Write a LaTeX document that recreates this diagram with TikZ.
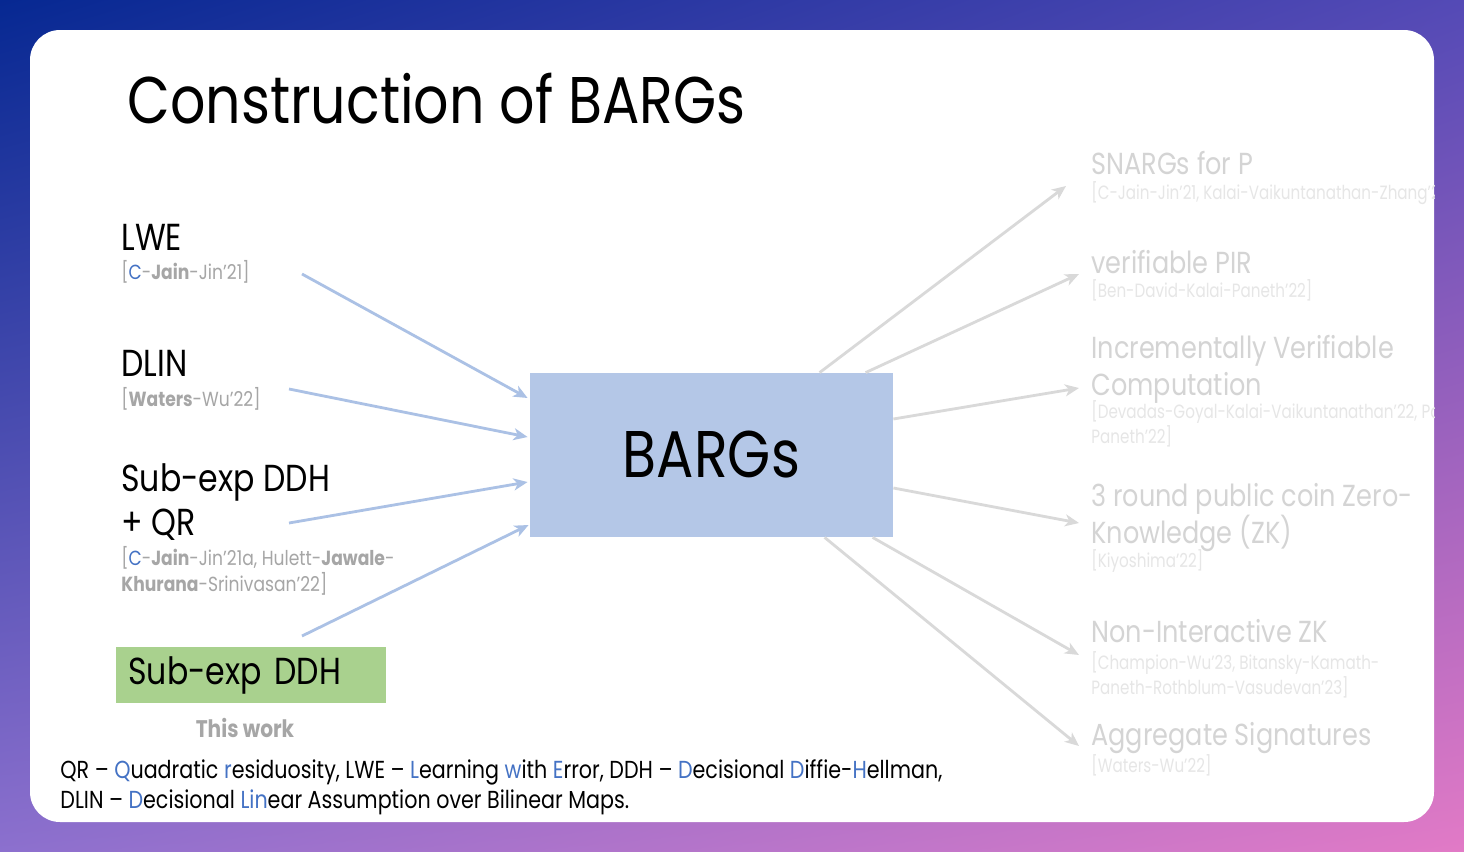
\documentclass[tikz,border=0pt]{standalone}
\usepackage{fontspec}
\setmainfont{Poppins}[FakeStretch=0.84]
\newfontfamily\narrowref{Poppins}[FakeStretch=0.79]
\usetikzlibrary{positioning,calc,arrows.meta,shadings}
\definecolor{bargblue}{HTML}{B4C7E7}
\definecolor{inblue}{HTML}{ABC1E5}
\definecolor{outgray}{HTML}{D9D9D9}
\definecolor{refgray}{HTML}{A6A6A6}
\definecolor{fadegray}{HTML}{D4D4D4}
\definecolor{fadelight}{HTML}{E6E6E6}
\definecolor{workgreen}{HTML}{A9D18E}
\definecolor{accblue}{HTML}{4472C4}
\definecolor{bgtl}{HTML}{062892}
\definecolor{bgtr}{HTML}{544AB6}
\definecolor{bgbl}{HTML}{8C70CE}
\definecolor{bgbr}{HTML}{E27AC6}
\newcommand{\cb}[1]{\textcolor{accblue}{#1}}
\tikzset{
  hyp/.style     = {anchor=base west, inner sep=0pt, align=left,
                    font=\fontsize{18.8}{22}\selectfont},
  hypref/.style  = {anchor=base west, inner sep=0pt, align=left, text=refgray,
                    font=\fontsize{10.2}{13}\selectfont},
  app/.style     = {anchor=base west, inner sep=0pt, align=left, text=fadegray,
                    font=\fontsize{15.2}{18.5}\selectfont},
  appref/.style  = {anchor=base west, inner sep=0pt, align=left, text=fadelight,
                    font=\narrowref\fontsize{9.6}{12.5}\selectfont},
  inarr/.style   = {draw=inblue, line width=1.4pt,
                    -{Stealth[length=7pt,width=6pt,inset=2pt]}},
  outarr/.style  = {draw=outgray, line width=1.4pt,
                    -{Stealth[length=7pt,width=6pt,inset=2pt]}},
}

\begin{document}
\begin{tikzpicture}[x=0.5pt, y=-0.5pt]
  % backdrop and slide card
  \shade[upper left=bgtl, upper right=bgtr, lower left=bgbl, lower right=bgbr]
    (0,0) rectangle (1464,852);
  \fill[white, rounded corners=15pt] (30,30) rectangle (1434,822);
  \begin{scope}
  \clip[rounded corners=15pt] (30,30) rectangle (1434,822);
  \node[anchor=base west, inner sep=0pt, font=\fontsize{33}{40}\selectfont]
    (title) at (127,123) {Construction of BARGs};
  % centre box
  \node[fill=bargblue, minimum width=181.5pt, minimum height=82pt, inner sep=0pt,
        font=\fontsize{33}{38}\selectfont] (barg) at (711.5,455) {BARGs};
  % LHS: assumptions (multi-line nodes sit on their last baseline)
  \node[hyp] (lwe) at (121,250) {LWE};
  \node[hypref] (lweref) at (121,279) {[\cb{C}-\textbf{Jain}-Jin’21]};
  \node[hyp] (dlin) at (121,376) {DLIN};
  \node[hypref] (dlinref) at (121,406) {[\textbf{Waters}-Wu’22]};
  \node[hyp] (ddhqr) at (121,535) {Sub-exp DDH\\+ QR};
  \node[hypref] (ddhqrref) at (121,591)
    {[\cb{C}-\textbf{Jain}-Jin’21a, Hulett-\textbf{Jawale}-\\\textbf{Khurana}-Srinivasan’22]};
  \node[anchor=north west, fill=workgreen, minimum width=135pt, minimum height=28pt,
        text width=123pt, inner xsep=6pt, inner ysep=0pt, align=left,
        font=\fontsize{18.8}{22}\selectfont] (ddh) at (116,647) {Sub-exp DDH};
  \node[anchor=base, inner sep=0pt, text=refgray, font=\fontsize{12}{14}\selectfont\bfseries]
    (work) at (245,737) {This work};
  \coordinate (lwetail) at (302,274);
  \coordinate (dlintail) at (289,389);
  \coordinate (ddhqrtail) at (289,523);
  \coordinate (ddhtail) at (302,636);
  \draw[inarr] (lwetail) -- ($(barg.west)+(-2,-57)$);
  \draw[inarr] (dlintail) -- ($(barg.west)+(-2,-18)$);
  \draw[inarr] (ddhqrtail) -- ($(barg.west)+(-2,27)$);
  \draw[inarr] (ddhtail) -- ($(barg.west)+(-1,70)$);
  % RHS: applications
  \node[app] (snarg) at (1091,174) {SNARGs for P};
  \node[appref] (snargref) at (1091,199) {[C-Jain-Jin’21, Kalai-Vaikuntanathan-Zhang’22]};
  \node[app] (vpir) at (1091,273) {verifiable PIR};
  \node[appref] (vpirref) at (1091,297) {[Ben-David-Kalai-Paneth’22]};
  \node[app] (ivc) at (1091,395) {Incrementally Verifiable\\Computation};
  \node[appref] (ivcref) at (1091,443)
    {[Devadas-Goyal-Kalai-Vaikuntanathan’22, Pass-\\Paneth’22]};
  \node[app] (zk) at (1091,543) {3 round public coin Zero-\\Knowledge (ZK)};
  \node[appref] (zkref) at (1091,567) {[Kiyoshima’22]};
  \node[app] (nizk) at (1091,642) {Non-Interactive ZK};
  \node[appref] (nizkref) at (1091,694)
    {[Champion-Wu’23, Bitansky-Kamath-\\Paneth-Rothblum-Vasudevan’23]};
  \node[app] (agg) at (1091,745) {Aggregate Signatures};
  \node[appref] (aggref) at (1091,772) {[Waters-Wu’22]};
  \coordinate (snarghead) at (1066,186);
  \coordinate (vpirhead) at (1079,274);
  \coordinate (ivchead) at (1079,388);
  \coordinate (zkhead) at (1079,523);
  \coordinate (nizkhead) at (1079,655);
  \coordinate (agghead) at (1079,746);
  \draw[outarr] ($(barg.north west)+(290,0)$) -- (snarghead);
  \draw[outarr] ($(barg.north west)+(336,0)$) -- (vpirhead);
  \draw[outarr] ($(barg.east)+(0,-36)$) -- (ivchead);
  \draw[outarr] ($(barg.east)+(0,33)$) -- (zkhead);
  \draw[outarr] ($(barg.south west)+(343,0)$) -- (nizkhead);
  \draw[outarr] ($(barg.south west)+(295,0)$) -- (agghead);
  % footnote
  \node[anchor=base west, inner sep=0pt, align=left, font=\fontsize{12.3}{15}\selectfont]
    (abbr) at (60,808)
    {QR – \cb{Q}uadratic \cb{r}esiduosity, LWE – \cb{L}earning \cb{w}ith \cb{E}rror, DDH – \cb{D}ecisional \cb{D}iffie-\cb{H}ellman,\\
     DLIN – \cb{D}ecisional \cb{Lin}ear Assumption over Bilinear Maps.};
  \end{scope}
\end{tikzpicture}
\end{document}
